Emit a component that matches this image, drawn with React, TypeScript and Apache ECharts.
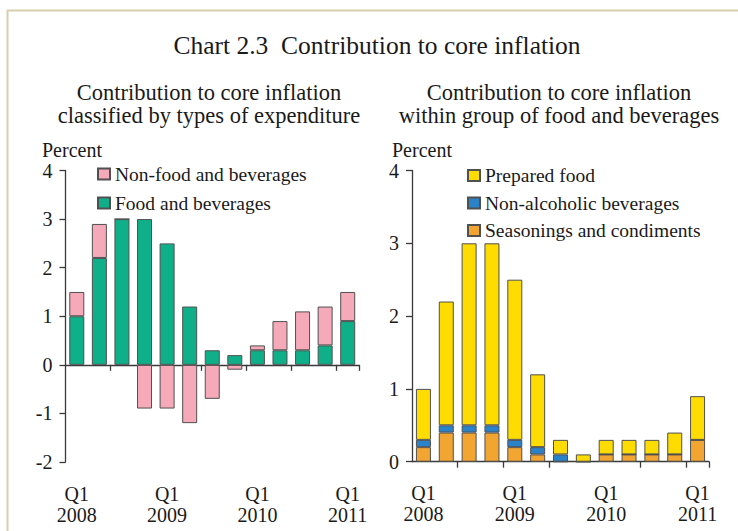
import React, { useEffect, useRef } from "react";
import * as echarts from "echarts";

const quarters = ["Q1\n2008","Q2","Q3","Q4","Q1\n2009","Q2","Q3","Q4","Q1\n2010","Q2","Q3","Q4","Q1\n2011"];

const foodAndBeverages = [1.0, 2.2, 3.0, 3.0, 2.5, 1.2, 0.3, 0.2, 0.3, 0.3, 0.3, 0.4, 0.9];
const nonFoodAndBeverages = [0.5, 0.7, 0.0, -0.9, -0.9, -1.2, -0.7, -0.1, 0.1, 0.6, 0.8, 0.8, 0.6];

const seasonings = [0.2, 0.4, 0.4, 0.4, 0.2, 0.1, 0.0, 0.0, 0.1, 0.1, 0.1, 0.1, 0.3];
const nonAlcoholic = [0.1, 0.1, 0.1, 0.1, 0.1, 0.1, 0.1, 0.0, 0.0, 0.0, 0.0, 0.0, 0.0];
const preparedFood = [0.7, 1.7, 2.5, 2.5, 2.2, 1.0, 0.2, 0.1, 0.2, 0.2, 0.2, 0.3, 0.6];

const leftTickIdx = [2, 6, 8, 10, 12];
const rightTickIdx = [2, 4, 6, 10, 12];

const FONT = "'Liberation Serif', 'Times New Roman', serif";
const TXT = "#1a1a1a";
const AX = "#3a3a3a";

export default function App() {
  const ref = useRef<HTMLDivElement>(null);
  useEffect(() => {
    document.body.style.margin = "0";
    const chart = echarts.init(ref.current!, undefined, { renderer: "svg" });
    const barBorder = { borderColor: "#505050", borderWidth: 1 };
    const xAxisBase = (gridIndex: number, ticks: number[], margin: number) => ({
      type: "category",
      gridIndex,
      data: quarters,
      boundaryGap: true,
      axisLine: { show: true, onZero: true, lineStyle: { color: AX, width: 1.3 } },
      axisTick: {
        show: true,
        length: 6,
        interval: (i: number) => ticks.indexOf(i) >= 0,
        lineStyle: { color: AX, width: 1.3 },
      },
      axisLabel: {
        interval: 3,
        margin,
        color: TXT,
        fontFamily: FONT,
        fontSize: 20,
        lineHeight: 21,
        formatter: (v: string) => v,
      },
      splitLine: { show: false },
    });
    const yAxisBase = (gridIndex: number, min: number) => ({
      type: "value",
      gridIndex,
      min,
      max: 4,
      interval: 1,
      axisLine: { show: true, onZero: false, lineStyle: { color: AX, width: 1.3 } },
      axisTick: { show: true, length: 6, lineStyle: { color: AX, width: 1.3 } },
      axisLabel: { color: TXT, fontFamily: FONT, fontSize: 20, margin: 13 },
      splitLine: { show: false },
    });
    chart.setOption({
      animation: false,
      backgroundColor: "#ffffff",
      textStyle: { fontFamily: FONT },
      grid: [
        { left: 65.5, right: 379, top: 170.5, bottom: 69, containLabel: false, outerBoundsMode: "none" },
        { left: 412, right: 29, top: 170.5, bottom: 69.3, containLabel: false, outerBoundsMode: "none" },
      ],
      xAxis: [xAxisBase(0, leftTickIdx, 21), xAxisBase(1, rightTickIdx, 21)],
      yAxis: [yAxisBase(0, -2), yAxisBase(1, 0)],
      legend: [
        {
          orient: "vertical",
          left: 92,
          top: 159,
          itemWidth: 12,
          itemHeight: 11,
          itemGap: 9,
          icon: "rect",
          textStyle: { color: TXT, fontFamily: FONT, fontSize: 19.5 },
          data: ["Non-food and beverages", "Food and beverages"],
        },
        {
          orient: "vertical",
          left: 462,
          top: 160.5,
          itemWidth: 12,
          itemHeight: 11,
          itemGap: 7.5,
          icon: "rect",
          textStyle: { color: TXT, fontFamily: FONT, fontSize: 19.5 },
          data: ["Prepared food", "Non-alcoholic beverages", "Seasonings and condiments"],
        },
      ],
      series: [
        {
          name: "Food and beverages",
          type: "bar",
          stack: "left",
          xAxisIndex: 0,
          yAxisIndex: 0,
          barWidth: 15,
          data: foodAndBeverages,
          itemStyle: { color: "#0fb089", ...barBorder },
        },
        {
          name: "Non-food and beverages",
          type: "bar",
          stack: "left",
          xAxisIndex: 0,
          yAxisIndex: 0,
          barWidth: 15,
          data: nonFoodAndBeverages,
          itemStyle: { color: "#f5a9b9", ...barBorder },
        },
        {
          name: "Seasonings and condiments",
          type: "bar",
          stack: "right",
          xAxisIndex: 1,
          yAxisIndex: 1,
          barWidth: 15,
          data: seasonings,
          itemStyle: { color: "#f3a532", ...barBorder },
        },
        {
          name: "Non-alcoholic beverages",
          type: "bar",
          stack: "right",
          xAxisIndex: 1,
          yAxisIndex: 1,
          barWidth: 15,
          data: nonAlcoholic,
          itemStyle: { color: "#2a82c9", ...barBorder },
        },
        {
          name: "Prepared food",
          type: "bar",
          stack: "right",
          xAxisIndex: 1,
          yAxisIndex: 1,
          barWidth: 15,
          data: preparedFood,
          itemStyle: { color: "#ffdc00", ...barBorder },
        },
      ],
      graphic: [
        { type: "line", shape: { x1: 7, y1: 10.5, x2: 738, y2: 10.5 }, style: { stroke: "#d8ceab", lineWidth: 2 } },
        { type: "line", shape: { x1: 7.5, y1: 10, x2: 7.5, y2: 531 }, style: { stroke: "#d8ceab", lineWidth: 2 } },
        { type: "text", x: 377, y: 45, style: { text: "Chart 2.3  Contribution to core inflation", font: `25.5px ${FONT}`, fill: TXT, textAlign: "center", textVerticalAlign: "middle" } },
        { type: "text", x: 209, y: 92, style: { text: "Contribution to core inflation", font: `22.5px ${FONT}`, fill: TXT, textAlign: "center", textVerticalAlign: "middle" } },
        { type: "text", x: 209, y: 115, style: { text: "classified by types of expenditure", font: `22.5px ${FONT}`, fill: TXT, textAlign: "center", textVerticalAlign: "middle" } },
        { type: "text", x: 559, y: 92, style: { text: "Contribution to core inflation", font: `22.5px ${FONT}`, fill: TXT, textAlign: "center", textVerticalAlign: "middle" } },
        { type: "text", x: 559, y: 115, style: { text: "within group of food and beverages", font: `22.5px ${FONT}`, fill: TXT, textAlign: "center", textVerticalAlign: "middle" } },
        { type: "text", x: 42, y: 150, style: { text: "Percent", font: `20px ${FONT}`, fill: TXT, textAlign: "left", textVerticalAlign: "middle" } },
        { type: "text", x: 392, y: 150, style: { text: "Percent", font: `20px ${FONT}`, fill: TXT, textAlign: "left", textVerticalAlign: "middle" } },
      ],
    });
    return () => chart.dispose();
  }, []);
  return <div ref={ref} style={{ width: 738, height: 531 }} />;
}
